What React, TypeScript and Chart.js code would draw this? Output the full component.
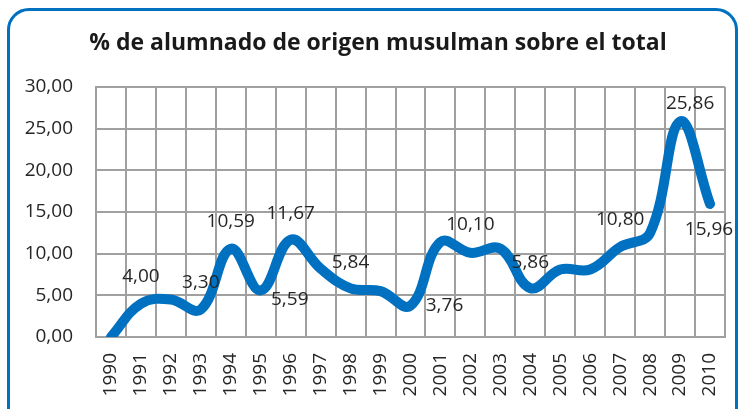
import React, { useEffect, useRef } from "react";
import { Chart, registerables } from "chart.js";

Chart.register(...registerables);

const TITLE = "% de alumnado de origen musulman sobre el total";
const YEARS = ["1990","1991","1992","1993","1994","1995","1996","1997","1998","1999","2000","2001","2002","2003","2004","2005","2006","2007","2008","2009","2010"];
const VALUES = [0, 4.0, 4.5, 3.3, 10.59, 5.59, 11.67, 8.2, 5.84, 5.5, 3.76, 11.4, 10.1, 10.6, 5.86, 8.1, 8.1, 10.8, 12.5, 25.86, 15.96];
// indices of points that carry a value label
const LABELLED = [1, 3, 4, 5, 6, 8, 10, 12, 14, 17, 19, 20];
// label placement relative to its point [dx, dy]
const LABEL_OFFSETS: Record<number, [number, number]> = {
  1: [0, -27], 3: [0, -27], 4: [0, -27], 5: [29, 9], 6: [0, -26],
  8: [0, -26], 10: [34, 0], 12: [0, -28], 14: [0, -26], 17: [0, -27],
  19: [10, -18], 20: [-1, 26],
};
const Y_MIN = 0;
const Y_MAX = 30;
const Y_STEP = 5;

const fmt = (v: number) => v.toFixed(2).replace(".", ",");
const FONT = "'Open Sans', 'Noto Sans', sans-serif";
const GRID = "#A0A0A0";
const TEXT = "#262626";

const labelPlugin = {
  id: "labelsAndTitle",
  afterDatasetsDraw(chart: any) {
    const ctx = chart.ctx;
    const meta = chart.getDatasetMeta(0);
    ctx.save();
    ctx.font = `19px ${FONT}`;
    ctx.fillStyle = TEXT;
    ctx.textAlign = "center";
    ctx.textBaseline = "middle";
    LABELLED.forEach((i) => {
      const el = meta.data[i];
      const [dx, dy] = LABEL_OFFSETS[i];
      ctx.fillText(fmt(VALUES[i]), el.x + dx, el.y + dy);
    });
    ctx.font = `bold 23px ${FONT}`;
    ctx.fillStyle = "#1a1a1a";
    ctx.fillText(TITLE, 378, 43);
    ctx.restore();
  },
};

export default function App() {
  const ref = useRef<HTMLCanvasElement | null>(null);
  useEffect(() => {
    if (!ref.current) return;
    const chart = new Chart(ref.current, {
      type: "line",
      data: {
        labels: YEARS,
        datasets: [
          {
            data: VALUES,
            borderColor: "#0070C0",
            borderWidth: 10,
            tension: 0.4,
            pointRadius: 0,
            borderCapStyle: "round",
            borderJoinStyle: "round",
            fill: false,
          },
        ],
      },
      options: {
        animation: false,
        responsive: false,
        layout: { padding: { top: 87, right: 15, left: 0, bottom: 0 } },
        plugins: { legend: { display: false }, tooltip: { enabled: false }, title: { display: false } },
        scales: {
          x: {
            offset: true,
            grid: { offset: true, color: GRID, lineWidth: 2, drawTicks: false },
            border: { color: GRID, width: 2 },
            ticks: {
              autoSkip: false,
              minRotation: 90,
              maxRotation: 90,
              padding: 16,
              color: TEXT,
              font: { family: FONT, size: 19 },
            },
            afterFit: (s: any) => {
              s.height = 72;
              s.paddingLeft = 0;
              s.paddingRight = 0;
            },
          },
          y: {
            min: Y_MIN,
            max: Y_MAX,
            grid: { color: GRID, lineWidth: 2, drawTicks: false },
            border: { color: GRID, width: 2 },
            ticks: {
              stepSize: Y_STEP,
              padding: 23,
              color: TEXT,
              font: { family: FONT, size: 19 },
              callback: (v: any) => fmt(Number(v)),
            },
            afterFit: (s: any) => {
              s.width = 96;
              s.paddingTop = 0;
              s.paddingBottom = 0;
            },
          },
        },
      },
      plugins: [labelPlugin],
    });
    return () => chart.destroy();
  }, []);

  return (
    <div style={{ position: "fixed", left: 0, top: 0, width: 740, height: 409, overflow: "hidden", background: "#fff" }}>
      <div
        style={{
          position: "absolute",
          left: 7,
          top: 8,
          width: 731,
          height: 460,
          boxSizing: "border-box",
          border: "3px solid #0070C0",
          borderRadius: 22,
        }}
      />
      <canvas ref={ref} width={740} height={409} style={{ position: "absolute", left: 0, top: 0, display: "block" }} />
    </div>
  );
}
